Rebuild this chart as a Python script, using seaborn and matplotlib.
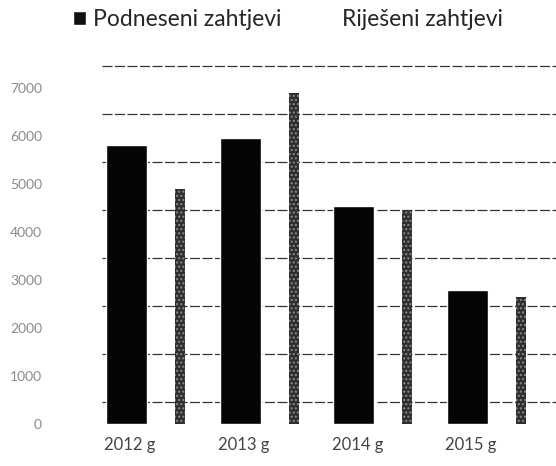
import matplotlib
matplotlib.use("Agg")
import matplotlib.pyplot as plt
import matplotlib.transforms as mtransforms
import numpy as np
import pandas as pd
import seaborn as sns

# Values
godine = ["2012 g", "2013 g", "2014 g", "2015 g"]
podneseni = [5800, 5950, 4550, 2800]
rijeseni = [4900, 6900, 4450, 2650]
serije = ["Podneseni zahtjevi", "Riješeni zahtjevi"]
yticks = [0, 1000, 2000, 3000, 4000, 5000, 6000, 7000]

df = pd.DataFrame({
    "godina": godine * 2,
    "broj": podneseni + rijeseni,
    "serija": [serije[0]] * 4 + [serije[1]] * 4,
})

sns.set_style("white")
plt.rcParams["font.family"] = ["Lato", "DejaVu Sans"]

fig = plt.figure(figsize=(5.56, 4.66), dpi=100)
ax = fig.add_axes([0.183, 0.09, 0.817, 0.773])

sns.barplot(data=df, x="godina", y="broj", hue="serija",
            palette=["#050505", "#2e2e2e"], saturation=1,
            errorbar=None, ax=ax, legend=False, zorder=3)

# wide front bar, thin bar behind it (like the 3D original)
for i, p in enumerate(ax.patches[:8]):
    cx = p.get_x() + p.get_width() / 2
    grp = round(cx)
    if i < 4:
        p.set_width(0.36)
        p.set_x(grp - 0.03 - 0.18)
    else:
        p.set_width(0.09)
        p.set_x(grp + 0.44 - 0.045)
        p.set_hatch("....")
        p.set_edgecolor("#8a8a8a")
        p.set_linewidth(0)

ax.set_xlim(-0.25, 3.75)
ax.set_ylim(0, 7500)
ax.set_yticks(yticks)
ax.set_yticklabels([str(v) for v in yticks])

# back-wall gridlines, shifted up a bit like in the 3D chart
wall = mtransforms.offset_copy(ax.transData, fig=fig, x=0, y=22, units="dots")
ax.hlines(yticks, -0.25, 3.75, transform=wall, color="#333333",
          linestyle=(0, (8, 2)), linewidth=0.9, zorder=1, clip_on=False)

ax.tick_params(axis="y", length=0, pad=43, labelsize=10, labelcolor="#8a8a8a")
ax.tick_params(axis="x", length=0, pad=9, labelsize=12, labelcolor="#444444")
ax.set_xlabel("")
ax.set_ylabel("")
sns.despine(ax=ax, left=True, bottom=True)

h1 = plt.Rectangle((0, 0), 1, 1, facecolor="#111111")
h2 = plt.Rectangle((0, 0), 1, 1, facecolor="white")
fig.legend([h1, h2], serije, loc="upper center", bbox_to_anchor=(0.518, 1.025),
           ncol=2, frameon=False, fontsize=16.5, handlelength=0.55,
           handleheight=0.55, handletextpad=0.3, columnspacing=1.8)

fig.savefig("out.png", dpi=100)
